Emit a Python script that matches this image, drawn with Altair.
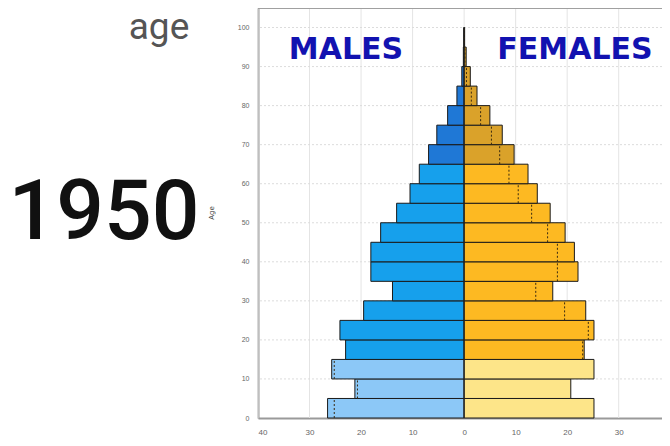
import altair as alt
import pandas as pd

# ---- data ----
age_start = [0, 5, 10, 15, 20, 25, 30, 35, 40, 45, 50, 55, 60, 65, 70, 75, 80, 85, 90, 95]
males = [26.5, 21.2, 25.7, 23.0, 24.1, 19.5, 13.9, 18.1, 18.1, 16.2,
         13.1, 10.5, 8.7, 6.9, 5.3, 3.2, 1.4, 0.45, 0.15, 0.05]
females = [25.2, 20.7, 25.2, 23.3, 25.2, 23.6, 17.2, 22.1, 21.4, 19.6,
           16.7, 14.2, 12.4, 9.7, 7.4, 5.0, 2.5, 1.2, 0.4, 0.1]
x_ticks = [-40, -30, -20, -10, 0, 10, 20, 30]
y_ticks = [0, 10, 20, 30, 40, 50, 60, 70, 80, 90, 100]

def band(a):
    if a < 15:
        return "young"
    if a < 65:
        return "adult"
    return "old"

rows = []
dots = []
for a, m, f in zip(age_start, males, females):
    rows.append({"age": a, "age2": a + 5, "val": -m, "key": "M-" + band(a)})
    rows.append({"age": a, "age2": a + 5, "val": f, "key": "F-" + band(a)})
    if m > f:
        dots.append({"age": a, "age2": a + 5, "val": -f})
    elif f > m:
        dots.append({"age": a, "age2": a + 5, "val": m})
bars_df = pd.DataFrame(rows)
dots_df = pd.DataFrame(dots)

keys = ["M-young", "M-adult", "M-old", "F-young", "F-adult", "F-old"]
cols = ["#8cc8f7", "#16a0ec", "#1f78d6", "#fde589", "#fdb922", "#daa22a"]

xscale = alt.Scale(domain=[-40, 38.4], nice=False, zero=False)
yscale = alt.Scale(domain=[0, 105], nice=False)

base = alt.Chart(bars_df)

grid = alt.Chart(pd.DataFrame({"v": x_ticks})).mark_rule(
    color="#e4e4e4", strokeWidth=1
).encode(x=alt.X("v:Q", scale=xscale))
hgrid = alt.Chart(pd.DataFrame({"v": y_ticks[1:]})).mark_rule(
    color="#dcdcdc", strokeWidth=1, strokeDash=[2, 2]
).encode(y=alt.Y("v:Q", scale=yscale))

bars = base.mark_bar(stroke="#1a1a1a", strokeWidth=1).encode(
    x=alt.X("val:Q", scale=xscale,
            axis=alt.Axis(values=x_ticks, labelExpr="abs(datum.value)", title=None,
                          ticks=False, grid=False, labelFontSize=8, labelColor="#666",
                          labelPadding=10, domainColor="#9a9a9a", domainWidth=2)),
    x2=alt.X2(datum=0),
    y=alt.Y("age:Q", scale=yscale,
            axis=alt.Axis(values=y_ticks, title=None, ticks=False, grid=False,
                          labelFontSize=7, labelColor="#666", labelPadding=9,
                          domainColor="#9a9a9a", domainWidth=2)),
    y2="age2:Q",
    color=alt.Color("key:N", scale=alt.Scale(domain=keys, range=cols), legend=None),
)

dotted = alt.Chart(dots_df).mark_rule(
    color="#3a2a10", strokeDash=[2, 2], strokeWidth=1
).encode(
    x=alt.X("val:Q", scale=xscale),
    y=alt.Y("age:Q", scale=yscale),
    y2="age2:Q",
)

center = alt.Chart(pd.DataFrame({"x": [0], "y": [0], "y2": [100]})).mark_rule(
    color="#222", strokeWidth=1
).encode(x=alt.X("x:Q", scale=xscale), y=alt.Y("y:Q", scale=yscale), y2="y2:Q")

top_border = alt.Chart(pd.DataFrame({"a": [0]})).mark_rule(
    color="#a0a0a0", strokeWidth=2
).encode(x=alt.value(0), x2=alt.value(404), y=alt.value(0))

def label(txt, x, y, size, color, weight="normal", font="Lato", angle=0, baseline="middle"):
    return alt.Chart(pd.DataFrame({"t": [txt]})).mark_text(
        fontSize=size, color=color, fontWeight=weight, font=font, angle=angle,
        align="center", baseline=baseline
    ).encode(text="t:N", x=alt.value(x), y=alt.value(y))

males_t = label("MALES", 88, 42, 30, "#1212b0", "bold", "DejaVu Sans")
females_t = label("FEMALES", 317, 42, 30, "#1212b0", "bold", "DejaVu Sans")
age_t = label("age", -99, 20, 37, "#555555", "normal", "Roboto", baseline="middle")
year_t = label("1950", -154, 206, 84, "#111111", 500, "Roboto")
ytitle = label("Age", -46, 205, 7, "#444", "normal", "DejaVu Sans", 270)

chart = alt.layer(
    grid, hgrid, bars, dotted, center, top_border,
    males_t, females_t, age_t, year_t, ytitle
).properties(
    width=404, height=410,
    autosize=alt.AutoSizeParams(type="none"),
    padding={"left": 250, "top": 0, "right": 0, "bottom": 22},
    background="white",
).configure_view(stroke=None)

chart.save("out.html", embed_options={"renderer": "svg", "actions": False})
